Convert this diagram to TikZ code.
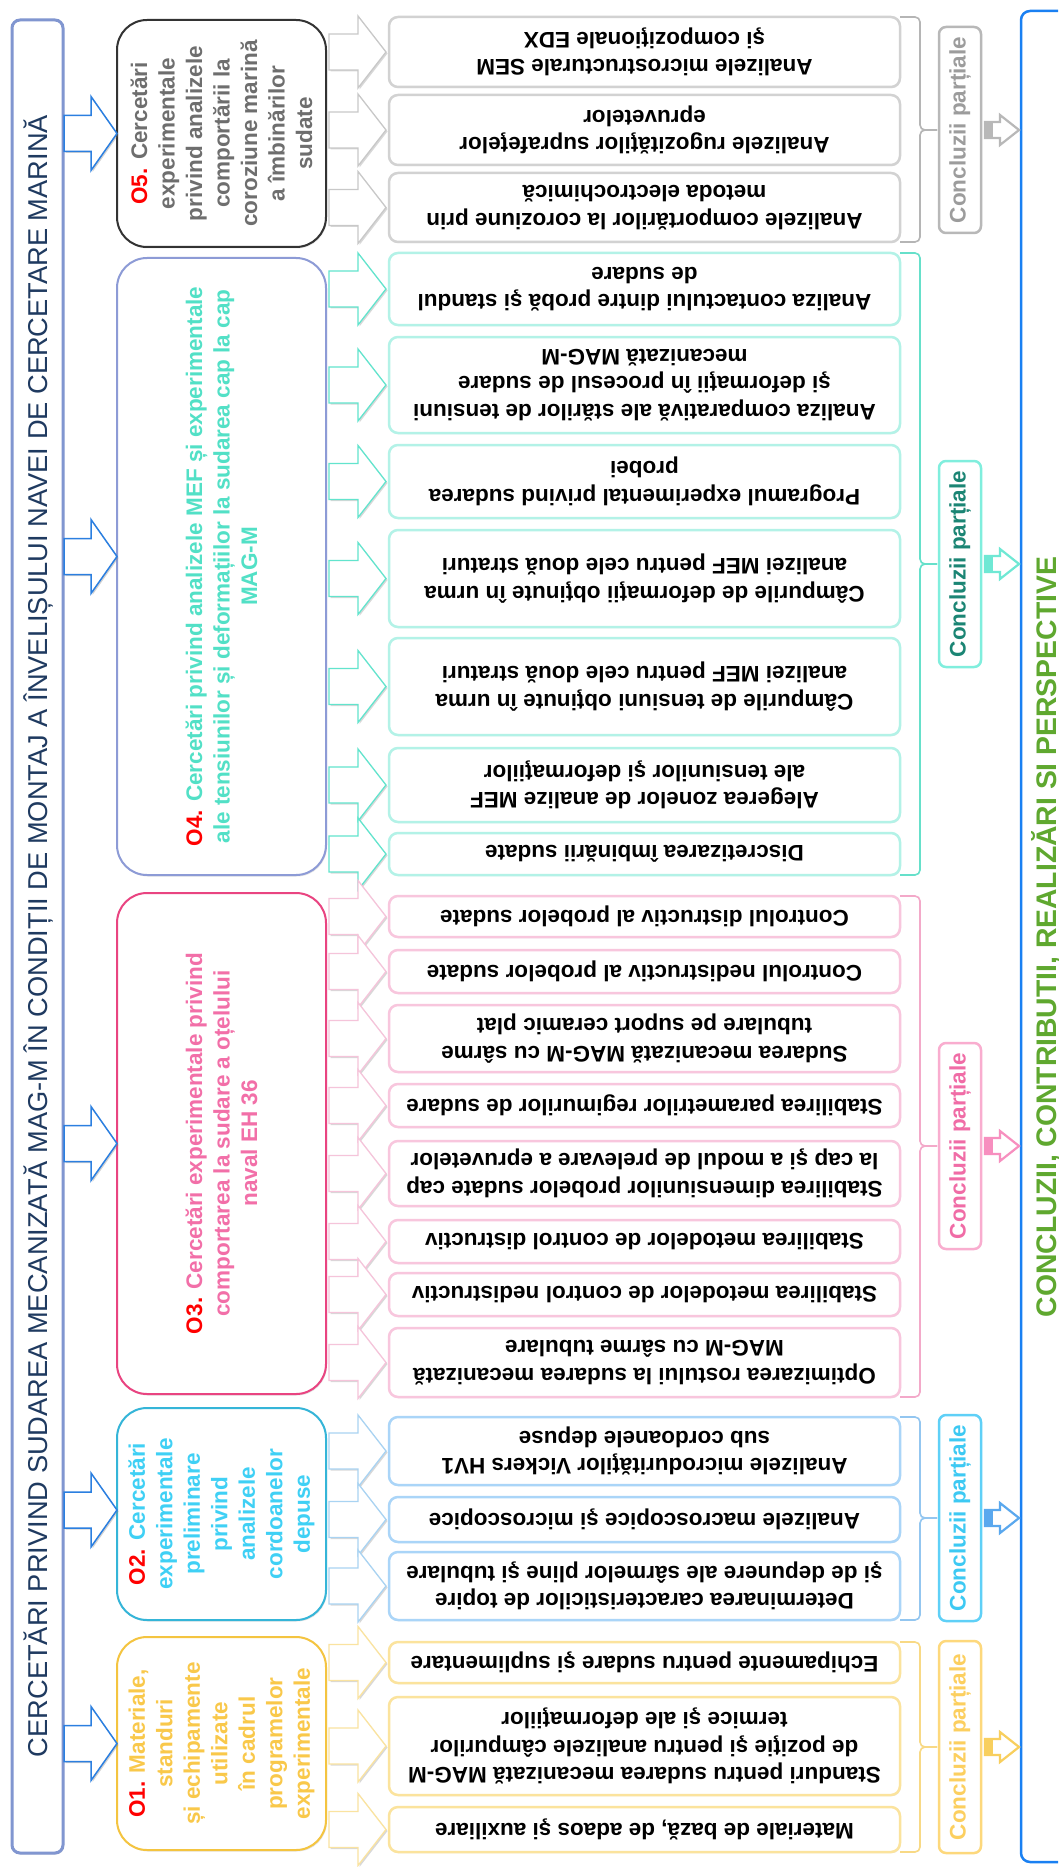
\documentclass[tikz,border=0pt]{standalone}
\usepackage{fontspec}
\setmainfont{Liberation Sans}
\usepackage{graphicx}
\usetikzlibrary{calc,shadows}
\definecolor{ttlbox}{HTML}{8196D0}
\definecolor{ttltxt}{HTML}{1F3A60}
\definecolor{arrblue}{HTML}{2B7FE0}
\definecolor{oRed}{HTML}{FF0000}
\definecolor{o5b}{HTML}{333333}\definecolor{o5t}{HTML}{6E6E6E}
\definecolor{o4b}{HTML}{8D9BD6}\definecolor{o4t}{HTML}{52E0C6}
\definecolor{o3b}{HTML}{E94481}\definecolor{o3t}{HTML}{F26FA8}
\definecolor{o2b}{HTML}{35B5D8}\definecolor{o2t}{HTML}{3FD0F5}
\definecolor{o1b}{HTML}{F4C440}\definecolor{o1t}{HTML}{F9C84A}
% group colours: sb step border, ar arrow, br bracket, cb concl border, ct concl text, sa small arrow
\definecolor{gsb}{HTML}{D2D2D2}\definecolor{gar}{HTML}{C8C8C8}\definecolor{gbr}{HTML}{B5B5B5}\definecolor{gcb}{HTML}{B8B8B8}\definecolor{gct}{HTML}{9C9C9C}\definecolor{gsa}{HTML}{B8B8B8}
\definecolor{tsb}{HTML}{B3F2E7}\definecolor{tar}{HTML}{62E4CD}\definecolor{tbr}{HTML}{66E0CA}\definecolor{tcb}{HTML}{80EEDD}\definecolor{tct}{HTML}{1B8574}\definecolor{tsa}{HTML}{6FE8D4}
\definecolor{psb}{HTML}{F8C6DD}\definecolor{par}{HTML}{F5C4DA}\definecolor{pbr}{HTML}{F3A9C9}\definecolor{pcb}{HTML}{F9ADCF}\definecolor{pct}{HTML}{F06CA6}\definecolor{psa}{HTML}{F78FBF}
\definecolor{bsb}{HTML}{AAD5F8}\definecolor{bar}{HTML}{A9D3F2}\definecolor{bbr}{HTML}{93C6F0}\definecolor{bcb}{HTML}{5FD0F7}\definecolor{bct}{HTML}{3DC9F3}\definecolor{bsa}{HTML}{5AA8EE}
\definecolor{ysb}{HTML}{FBE39D}\definecolor{yar}{HTML}{FAE3A0}\definecolor{ybr}{HTML}{F8D985}\definecolor{ycb}{HTML}{FDD87C}\definecolor{yct}{HTML}{FCCF5F}\definecolor{ysa}{HTML}{F8CF5E}
\definecolor{bigblue}{HTML}{1A80F2}
\definecolor{concgreen}{HTML}{5FA82F}

\tikzset{
  sbox/.style={draw, line width=2.5pt, rounded corners=9pt, fill=white, minimum width=511pt,
    inner sep=0pt, outer sep=0pt, drop shadow={shadow xshift=0.8pt, shadow yshift=-1.2pt, opacity=0.15}},
  stxt/.style={font=\fontsize{22.5}{27.5}\selectfont\bfseries, align=center, inner sep=0pt},
  obox/.style={draw, line width=2pt, rounded corners=30pt, fill=white, minimum width=209pt,
    inner sep=0pt, outer sep=0pt, drop shadow={shadow xshift=1pt, shadow yshift=-1.5pt, opacity=0.2}},
  otxt/.style={font=\fontsize{22.5}{27.5}\selectfont\bfseries, align=center, inner sep=0pt, rotate=90},
  tbox/.style={draw=ttlbox, line width=3pt, rounded corners=8pt, fill=white, inner sep=0pt, outer sep=0pt,
    drop shadow={shadow xshift=1pt, shadow yshift=-1.5pt, opacity=0.2}},
  tarrow/.style={draw=arrblue, line width=1.5pt, fill=white, line join=miter,
    drop shadow={shadow xshift=1.5pt, shadow yshift=-1.5pt, opacity=0.35}},
  sarrow/.style={line width=1.3pt, fill=white, line join=miter,
    drop shadow={shadow xshift=1.5pt, shadow yshift=-1.5pt, opacity=0.3}},
  carrow/.style={line width=2.2pt, fill=white, line join=miter},
  cbox/.style={draw, line width=2.5pt, rounded corners=7pt, fill=white, minimum width=42pt, inner sep=0pt, outer sep=0pt},
  ctxt/.style={font=\fontsize{22.5}{27.5}\selectfont\bfseries, inner sep=0pt, rotate=90},
  brc/.style={line width=1.6pt, rounded corners=5pt},
  bigbox/.style={draw=bigblue, line width=2.5pt, rounded corners=9pt, inner sep=0pt, outer sep=0pt}
}

% block arrow: #1 anchor (left middle), #2 x shift, #3 shaft length, #4 head length, #5 shaft half, #6 head half, #7 style
\newcommand{\blk}[7]{\draw[#7] ($#1+(#2,-#5)$) -- ++(#3,0) -- ++(0,{#5-#6}) -- ++(#4,#6) -- ++(-#4,#6) -- ++(0,{#5-#6}) -- ++(-#3,0) -- cycle;}
% step box: name, top, bottom, group, text
\newcommand{\mkstep}[5]{%
  \node[sbox, draw=#4sb, minimum height={(#3)-(#2)}] (#1) at (644.5,{((#2)+(#3))/2}) {};
  \node[stxt, rotate=180] (#1t) at (#1.center) {#5};}
% bracket: top node, bottom node, conclusion node, colour
\newcommand{\mkbrace}[4]{%
  \draw[brc, draw=#4] (#1.north east) -| ($(#3.west)+(-19,0)$) -- ($(#3.west)+(-2,0)$);
  \draw[brc, draw=#4] (#2.south east) -| ($(#3.west)+(-19,0)$) -- ($(#3.west)+(-2,0)$);}
% conclusion arrow to the big box
\newcommand{\mkcarrow}[2]{%
  \blk{(#1.east)}{4}{15}{19}{8}{15}{carrow, draw=#2}
  \fill[#2] ($(#1.east)+(4,-8)$) rectangle ++(8,16);}

\begin{document}
\begin{tikzpicture}[x=1pt,y=-1pt]
\useasboundingbox (0,0) rectangle (1058,1867);
\clip (0,0) rectangle (1058,1867);
\fill[white] (0,0) rectangle (1058,1867);

% ---------- title ----------
\node[tbox, minimum width=51pt, minimum height=1833pt] (T) at (37.5,936.5) {};
\node[rotate=90, text=ttltxt, inner sep=0pt] (Tt) at (38,936) {\resizebox{1642pt}{!}{\fontsize{28}{30}\selectfont CERCETĂRI PRIVIND SUDAREA MECANIZATĂ MAG-M ÎN CONDIȚII DE MONTAJ A ÎNVELIȘULUI NAVEI DE CERCETARE MARINĂ}};

% ---------- objective boxes ----------
\node[obox, draw=o5b, minimum height=227pt] (O5) at (221.5,133.5) {};
\node[otxt, text=o5t] (O5t) at (O5.center) {{\color{oRed}O5.} Cercetări\\experimentale\\privind analizele\\comportării la\\coroziune marină\\a îmbinărilor\\sudate};
\node[obox, draw=o4b, minimum height=617pt] (O4) at (221.5,566.5) {};
\node[otxt, text=o4t] (O4t) at (O4.center) {{\color{oRed}O4.} Cercetări privind analizele MEF și experimentale\\ale tensiunilor și deformațiilor  la sudarea cap la cap\\MAG-M};
\node[obox, draw=o3b, minimum height=501pt] (O3) at (221.5,1143.5) {};
\node[otxt, text=o3t] (O3t) at (O3.center) {{\color{oRed}O3.} Cercetări experimentale privind\\comportarea la sudare a oțelului\\naval EH 36};
\node[obox, draw=o2b, minimum height=212pt] (O2) at (221.5,1514) {};
\node[otxt, text=o2t] (O2t) at (O2.center) {{\color{oRed}O2.} Cercetări\\experimentale\\preliminare\\privind\\analizele\\cordoanelor\\depuse};
\node[obox, draw=o1b, minimum height=213pt] (O1) at (221.5,1743.5) {};
\node[otxt, text=o1t] (O1t) at (O1.center) {{\color{oRed}O1.} Materiale,\\standuri\\și echipamente\\utilizate\\în cadrul\\programelor\\experimentale};

% ---------- title arrows ----------
\coordinate (a5) at (T.east |- O5.west);
\coordinate (a4) at ($(T.east |- O4.west)+(0,-10)$);
\coordinate (a3) at (T.east |- O3.west);
\coordinate (a2) at ($(T.east |- O2.west)+(0,-4)$);
\coordinate (a1) at (T.east |- O1.west);
\foreach \c in {a5,a4,a3,a2,a1}{\blk{(\c)}{1}{27}{26}{18}{37}{tarrow}}

% ---------- step boxes ----------
\mkstep{s1}{17}{87}{g}{Analizele microstructurale SEM\\şi compoziţionale EDX}
\mkstep{s2}{95}{165}{g}{Analizele rugozităţilor suprafeţelor\\epruvetelor}
\mkstep{s3}{173}{242}{g}{Analizele comportărilor la coroziune prin\\metoda electrochimică}
\mkstep{s4}{253}{325}{t}{Analiza contactului dintre probă şi standul\\de sudare}
\mkstep{s5}{337}{433}{t}{Analiza comparativă ale stărilor de tensiuni\\şi deformaţii în procesul de sudare\\mecanizată MAG-M}
\mkstep{s6}{445}{518}{t}{Programul experimental privind sudarea\\probei}
\mkstep{s7}{530}{627}{t}{Câmpurile de deformaţii obţinute în urma\\analizei MEF pentru cele două straturi}
\mkstep{s8}{638}{735}{t}{Câmpurile de tensiuni obţinute în urma\\analizei MEF pentru cele două straturi}
\mkstep{s9}{748}{822}{t}{Alegerea zonelor de analize MEF\\ale tensiunilor şi deformaţiilor}
\mkstep{s10}{833}{875}{t}{Discretizarea îmbinării sudate}
\mkstep{s11}{896}{937}{p}{Controlul distructiv al probelor sudate}
\mkstep{s12}{950}{993}{p}{Controlul nedistructiv al probelor sudate}
\mkstep{s13}{1005}{1072}{p}{Sudarea mecanizată MAG-M cu sârme\\tubulare pe suport ceramic plat}
\mkstep{s14}{1084}{1127}{p}{Stabilirea parametrilor regimurilor de sudare}
\mkstep{s15}{1141}{1206}{p}{Stabilirea dimensiunilor probelor sudate cap\\la cap şi a modul de prelevare a epruvetelor}
\mkstep{s16}{1220}{1263}{p}{Stabilirea metodelor de control distructiv}
\mkstep{s17}{1273}{1316}{p}{Stabilirea metodelor de control nedistructiv}
\mkstep{s18}{1328}{1397}{p}{Optimizarea rostului la sudarea mecanizată\\MAG-M cu sârme tubulare}
\mkstep{s19}{1417}{1485}{b}{Analizele microdurităţilor Vickers HV1\\sub cordoanele depuse}
\mkstep{s20}{1497}{1542}{b}{Analizele macroscopice şi microscopice}
\mkstep{s21}{1552}{1620}{b}{Determinarea caracteristicilor de topire\\şi de depunere ale sârmelor pline şi tubulare}
\mkstep{s22}{1642}{1683}{y}{Echipamente pentru sudare şi suplimentare}
\mkstep{s23}{1697}{1795}{y}{Standuri pentru sudarea mecanizată MAG-M\\de poziţie şi pentru analizele câmpurilor\\termice şi ale deformaţiilor}
\mkstep{s24}{1807}{1852}{y}{Materiale de bază, de adaos şi auxiliare}

% ---------- step arrows ----------
\foreach \s in {s1,s2,s3}{\blk{(O5.east |- \s.west)}{3}{29}{28}{18}{36}{sarrow, draw=gar}}
\foreach \s in {s4,s5,s6,s7,s8,s9,s10}{\blk{(O4.east |- \s.west)}{3}{29}{28}{18}{36}{sarrow, draw=tar}}
\foreach \s in {s11,s12,s13,s14,s15,s16,s17,s18}{\blk{(O3.east |- \s.west)}{3}{29}{28}{18}{36}{sarrow, draw=par}}
\foreach \s in {s19,s20,s21}{\blk{(O2.east |- \s.west)}{3}{29}{28}{18}{36}{sarrow, draw=bar}}
\foreach \s in {s22,s23,s24}{\blk{(O1.east |- \s.west)}{3}{29}{28}{18}{36}{sarrow, draw=yar}}

% ---------- partial conclusions ----------
\node[cbox, draw=gcb, minimum height=206pt] (Cg) at (960,130) {};
\node[ctxt, text=gct] (Cgt) at (Cg.center) {Concluzii parțiale};
\node[cbox, draw=tcb, minimum height=206pt] (Ct) at (960,564) {};
\node[ctxt, text=tct] (Ctt) at (Ct.center) {Concluzii parțiale};
\node[cbox, draw=pcb, minimum height=206pt] (Cp) at (960,1146) {};
\node[ctxt, text=pct] (Cpt) at (Cp.center) {Concluzii parțiale};
\node[cbox, draw=bcb, minimum height=206pt] (Cb) at (960,1518) {};
\node[ctxt, text=bct] (Cbt) at (Cb.center) {Concluzii parțiale};
\node[cbox, draw=ycb, minimum height=212pt] (Cy) at (960,1747) {};
\node[ctxt, text=yct] (Cyt) at (Cy.center) {Concluzii parțiale};

\mkbrace{s1}{s3}{Cg}{gbr}
\mkbrace{s4}{s10}{Ct}{tbr}
\mkbrace{s11}{s18}{Cp}{pbr}
\mkbrace{s19}{s21}{Cb}{bbr}
\mkbrace{s22}{s24}{Cy}{ybr}

% ---------- final box ----------
\node[bigbox, minimum width=100pt, minimum height=1851pt] (CC) at (1071,936.5) {};
\node[rotate=90, text=concgreen, inner sep=0pt] (CCt) at (1046,937) {\resizebox{760pt}{!}{\fontsize{28}{30}\selectfont\bfseries CONCLUZII, CONTRIBUTII, REALIZĂRI SI PERSPECTIVE}};

\mkcarrow{Cg}{gsa}
\mkcarrow{Ct}{tsa}
\mkcarrow{Cp}{psa}
\mkcarrow{Cb}{bsa}
\mkcarrow{Cy}{ysa}
\end{tikzpicture}
\end{document}
